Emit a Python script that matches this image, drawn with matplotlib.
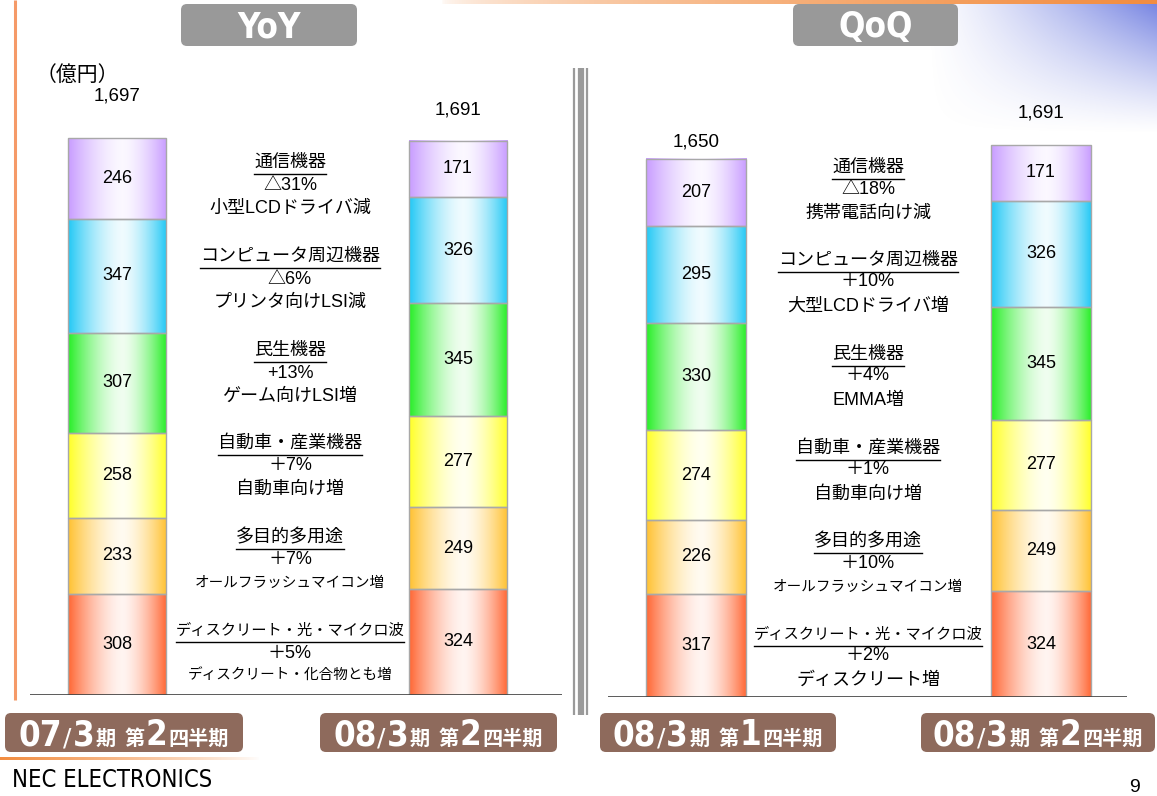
import re

import numpy as np
import matplotlib.pyplot as plt
from matplotlib.colors import to_rgb
from matplotlib.patches import FancyBboxPatch

plt.rcParams['font.family'] = ['Liberation Sans', 'Noto Sans CJK JP', 'DejaVu Sans']
NARROW = ['DejaVu Sans']
CJK = ['Noto Sans CJK JP', 'DejaVu Sans']

# data (bottom segment first)
categories = ['ディスクリート・光・マイクロ波', '多目的多用途', '自動車・産業機器',
              '民生機器', 'コンピュータ周辺機器', '通信機器']
q2_fy07 = [308, 233, 258, 307, 347, 246]
q1_fy08 = [317, 226, 274, 330, 295, 207]
q2_fy08 = [324, 249, 277, 345, 326, 171]
yoy_totals = [1697, 1691]
qoq_totals = [1650, 1691]
yoy_periods = ['07/3期 第2四半期', '08/3期 第2四半期']
qoq_periods = ['08/3期 第1四半期', '08/3期 第2四半期']
yoy_changes = ['＋5%', '＋7%', '＋7%', '+13%', '△6%', '△31%']
yoy_notes = ['ディスクリート・化合物とも増', 'オールフラッシュマイコン増', '自動車向け増',
             'ゲーム向けLSI増', 'プリンタ向けLSI減', '小型LCDドライバ減']
qoq_changes = ['＋2%', '＋10%', '＋1%', '＋4%', '＋10%', '△18%']
qoq_notes = ['ディスクリート増', 'オールフラッシュマイコン増', '自動車向け増',
             'EMMA増', '大型LCDドライバ増', '携帯電話向け減']

seg_colors = ['#FF6633', '#FFC130', '#FFFF26', '#26EE26', '#22C8F5', '#C89CFF']

W, H = 1157, 796
fig = plt.figure(figsize=(W / 100, H / 100), dpi=100)
bg = fig.add_axes([0, 0, 1, 1], zorder=0)
bg.set_xlim(0, W)
bg.set_ylim(H, 0)
bg.set_autoscale_on(False)
bg.axis('off')


def gradient(color, n=200, peak=0.55):
    u = np.linspace(0, 1, n)
    w = np.where(u < peak, (peak - u) / peak, (u - peak) / (1 - peak))
    a = 0.07 + 0.93 * w ** 1.6
    c = np.array(to_rgb(color))
    return ((1 - a)[:, None] + a[:, None] * c[None, :])[None, :, :]


def draw_panel(rect, xlim, ylim, series, totals, offsets):
    ax = fig.add_axes(rect, zorder=1)
    ax.patch.set_alpha(0)
    x = np.arange(len(series))
    bottom = np.zeros(len(series))
    for i in range(len(categories)):
        h = np.array([s[i] for s in series])
        bars = ax.bar(x, h, 0.29, bottom=bottom, facecolor='none',
                      edgecolor='#a8a8a8', linewidth=1, zorder=3)
        for b, val in zip(bars, h):
            x0, y0 = b.get_x(), b.get_y()
            ax.imshow(gradient(seg_colors[i]), aspect='auto', zorder=2,
                      extent=[x0, x0 + b.get_width(), y0, y0 + b.get_height()])
            ax.text(x0 + b.get_width() / 2, y0 + val / 2, f'{val}',
                    ha='center', va='center', fontsize=13, zorder=4)
        bottom += h
    for xi, top, t, off in zip(x, bottom, totals, offsets):
        ax.annotate(f'{t:,}', (xi, top), xytext=(0, off), textcoords='offset pixels',
                    ha='center', va='center', fontsize=13.5)
    ax.axhline(0, color='#404040', lw=1.2, zorder=5)
    ax.set_xlim(*xlim)
    ax.set_ylim(*ylim)
    ax.axis('off')
    return ax


draw_panel([30 / W, 101 / H, 532 / W, 635 / H], (-0.2551, 1.305), (0, 1938),
           [q2_fy07, q2_fy08], yoy_totals, [42, 31])
draw_panel([608 / W, 99 / H, 519 / W, 637 / H], (-0.2551, 1.2493), (0, 1952),
           [q1_fy08, q2_fy08], qoq_totals, [17, 32])

# decorations in pixel space
orange = np.array([0.95, 0.55, 0.25])
bg.plot([15, 15], [0, 700], color='#F59A68', lw=2.2, solid_capstyle='butt')
top_rgba = np.concatenate([np.ones((1, 300, 3)) * orange,
                           np.linspace(0, 1, 300)[None, :, None] ** 0.5], axis=2)
bg.imshow(top_rgba, extent=[440, W, 4, 0], aspect='auto')
bot_rgba = np.concatenate([np.ones((1, 300, 3)) * orange,
                           np.linspace(1, 0, 300)[None, :, None] ** 0.8], axis=2)
bg.imshow(bot_rgba, extent=[0, 260, 760, 757], aspect='auto')
yy, xx = np.mgrid[0:1:130j, 0:1:230j]
blue = np.zeros((130, 230, 4))
blue[..., :3] = [0.38, 0.44, 0.87]
blue[..., 3] = np.clip(xx ** 1.2 * (1 - yy) ** 1.2 * 0.85, 0, 1)
bg.imshow(blue, extent=[927, W, 134, 4], aspect='auto')

for xs, lw in [(574, 1.6), (580.5, 4.5), (586.5, 1.6)]:
    bg.plot([xs, xs], [68, 715], color='#9a9a9a', lw=lw, solid_capstyle='butt')

for (x0, x1), label in [((181, 357), 'YoY'), ((793, 958), 'QoQ')]:
    bg.add_patch(FancyBboxPatch((x0, 4), x1 - x0, 42, boxstyle='round,pad=0,rounding_size=6',
                                fc='#999999', ec='none'))
    bg.text((x0 + x1) / 2, 27, label, ha='center', va='center', color='white',
            fontsize=25, fontweight='bold', family=NARROW, fontstretch='condensed')

bg.text(36, 75, '（億円）', ha='left', va='center', fontsize=15, family=CJK)
bg.text(12, 780, 'NEC ELECTRONICS', ha='left', va='center', fontsize=17,
        family=NARROW, fontstretch='condensed')
bg.text(1129, 787, '9', ha='left', va='center', fontsize=14)

renderer = fig.canvas.get_renderer()


def rich_label(cx, base, text):
    parts = re.findall(r'\d+|/|\s+|[^\d/\s]+', text)
    items = []
    for p in parts:
        if p.isspace():
            items.append((None, 8))
            continue
        if p.isdigit():
            t = bg.text(0, base, p, fontsize=25, fontweight='bold', family=NARROW,
                        fontstretch='condensed', color='white')
        elif p == '/':
            t = bg.text(0, base, p, fontsize=18, family=NARROW, color='white')
        else:
            t = bg.text(0, base, p, fontsize=14.5, fontweight='bold', family=CJK, color='white')
        t.set_va('baseline')
        items.append((t, t.get_window_extent(renderer).width + 1))
    total = sum(w for _, w in items)
    xpos = cx - total / 2
    for t, w in items:
        if t is not None:
            t.set_x(xpos)
        xpos += w


period_boxes = [(5, 243), (320, 557), (600, 836), (921, 1155)]
for (x0, x1), label in zip(period_boxes, yoy_periods + qoq_periods):
    bg.add_patch(FancyBboxPatch((x0, 713), x1 - x0, 39, boxstyle='round,pad=0,rounding_size=6',
                                fc='#8E6A5C', ec='none'))
    rich_label((x0 + x1) / 2, 745, label)


def annotations(cx, heads_y, changes, notes, gaps):
    for name, y, chg, note in zip(categories, heads_y, changes, notes):
        hs = 13 if len(name) <= 10 else 11
        t = bg.text(cx, y, name, ha='center', va='center', fontsize=hs, family=CJK)
        bb = t.get_window_extent(renderer)
        bg.plot([bb.x0, bb.x1], [y + 11.5, y + 11.5], color='black', lw=1)
        bg.text(cx, y + gaps[0], chg, ha='center', va='center', fontsize=13)
        ns = 13 if len(note) <= 10 else 10.5
        bg.text(cx, y + gaps[1], note, ha='center', va='center', fontsize=ns)


annotations(290, [630, 537, 443, 350, 256, 162], yoy_changes, yoy_notes, (23, 46))
annotations(868, [634, 541, 448, 354, 260, 167], qoq_changes, qoq_notes, (22, 46))

fig.savefig('out.png', dpi=100)
